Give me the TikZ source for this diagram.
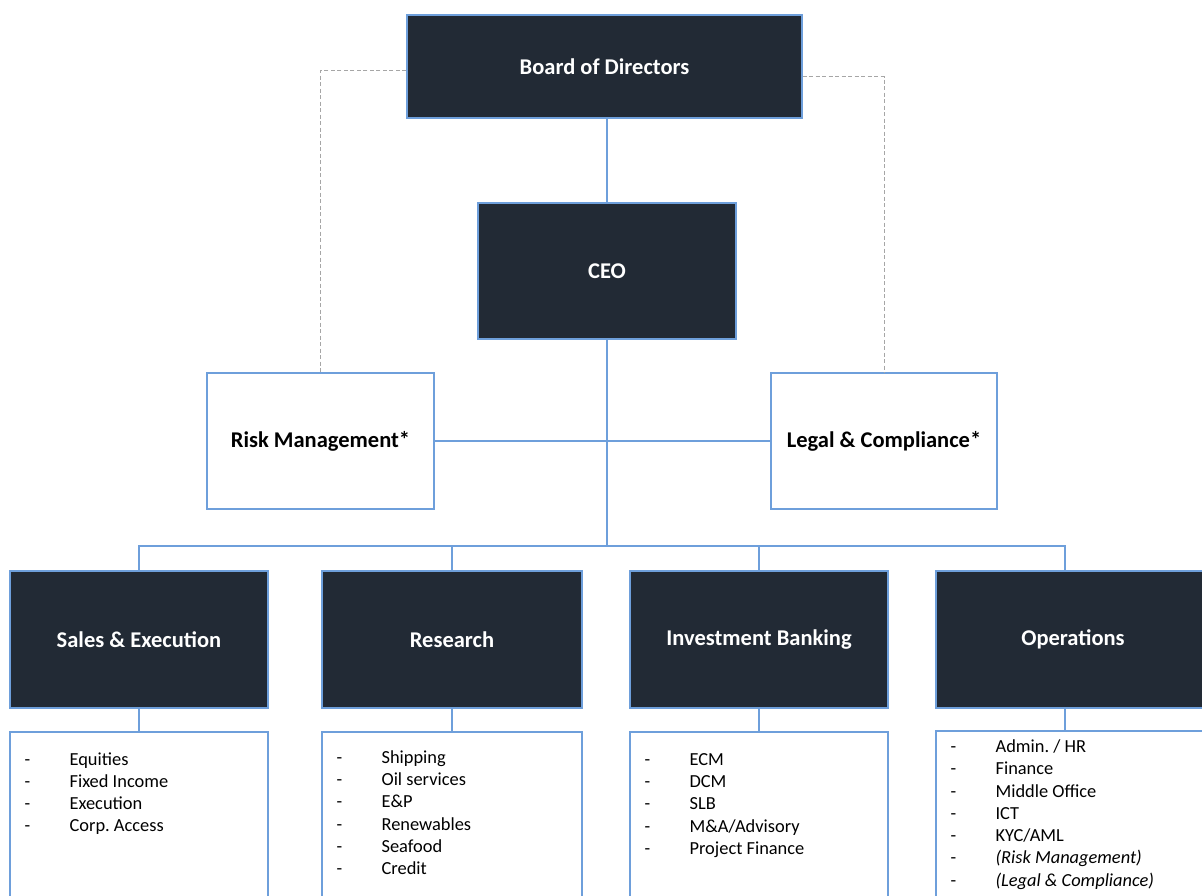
\documentclass[tikz,border=0pt]{standalone}
\usepackage{fontspec}
\setmainfont{Carlito}
\usetikzlibrary{positioning,calc}
\definecolor{navy}{HTML}{222A35}
\definecolor{linkblue}{HTML}{6E9FDB}
\definecolor{dashgray}{HTML}{A6A6A6}
\frenchspacing

\begin{document}
\begin{tikzpicture}[x=1pt,y=-1pt,
    darkbox/.style={draw=linkblue, line width=1.2pt, fill=navy, text=white,
      font=\fontsize{22.5}{27}\selectfont\bfseries, minimum height=137pt},
    lightbox/.style={draw=linkblue, line width=1.2pt, fill=white,
      font=\fontsize{22.5}{27}\selectfont\bfseries, minimum height=136pt},
    listbox/.style={draw=linkblue, line width=1.2pt, fill=white, minimum height=180pt},
    link/.style={draw=linkblue, line width=1.3pt},
    dashline/.style={draw=dashgray, line width=1pt, dash pattern=on 4pt off 2.5pt},
    entry/.style={anchor=base west, inner sep=0pt, font=\fontsize{18.4}{22}\selectfont}]
        \clip (0,0) rectangle (1202,895);
        % Top of the chart
        \node[darkbox, minimum width=395pt, minimum height=103pt] (board) at (604.5,66.5) {Board of Directors};
        \node[darkbox, minimum width=258pt, minimum height=136pt] (ceo) at (607,271) {CEO};
        \node[lightbox, minimum width=227pt] (risk) at (320.5,441) {Risk Management*};
        \node[lightbox, minimum width=226pt] (legal) at (884,441) {Legal \& Compliance*};
        % Business areas
        \node[darkbox, minimum width=258pt] (sales) at (139,639.5) {Sales \& Execution};
        \node[darkbox, minimum width=260pt] (research) at (452,639.5) {Research};
        \node[darkbox, minimum width=258pt] (ib) at (759,639.5) {Investment Banking};
        \node[darkbox, minimum width=274pt] (ops) at (1073,639.5) {Operations};
        % Boxes for the lists
        \node[listbox, minimum width=258pt] (saleslist) at (139,822) {};
        \node[listbox, minimum width=260pt] (researchlist) at (452,822) {};
        \node[listbox, minimum width=258pt] (iblist) at (759,822) {};
        \node[listbox, minimum width=274pt] (opslist) at (1073,821) {};
        % Lines
        \coordinate (bus) at (607,546);
        \coordinate (opsdrop) at (1065,546);
        \draw[link] (ceo.north) -- (ceo.north |- board.south);
        \draw[link] (ceo.south) -- (bus);
        \draw[link] (risk.east) -- (legal.west);
        \draw[link] (sales.north) |- (bus) -| (opsdrop) -- (opsdrop |- ops.north);
        \draw[link] (research.north) -- (research.north |- bus);
        \draw[link] (ib.north) -- (ib.north |- bus);
        \draw[link] (sales.south) -- (saleslist.north);
        \draw[link] (research.south) -- (researchlist.north);
        \draw[link] (ib.south) -- (iblist.north);
        \draw[link] (opsdrop |- ops.south) -- (opsdrop |- opslist.north);
        \draw[dashline] ([yshift=-4pt]board.west) -| (risk.north);
        \draw[dashline] ([yshift=-10pt]board.east) -| (legal.north);
        % Add the list entries
        \foreach \entry [count=\i from 0] in {Equities, Fixed Income, Execution, Corp. Access} {
            \node[entry] at ($(saleslist.north west)+(15,34+22*\i)$) {-};
            \node[entry] at ($(saleslist.north west)+(60,34+22*\i)$) {\entry};
        }
        \foreach \entry [count=\i from 0] in {Shipping, Oil services, E\&P, Renewables, Seafood, Credit} {
            \node[entry] at ($(researchlist.north west)+(15,32+22.2*\i)$) {-};
            \node[entry] at ($(researchlist.north west)+(60,32+22.2*\i)$) {\entry};
        }
        \foreach \entry [count=\i from 0] in {ECM, DCM, SLB, M\&A/Advisory, Project Finance} {
            \node[entry] at ($(iblist.north west)+(15,34+22.2*\i)$) {-};
            \node[entry] at ($(iblist.north west)+(60,34+22.2*\i)$) {\entry};
        }
        \foreach \entry [count=\i from 0] in {Admin. / HR, Finance, Middle Office, ICT, KYC/AML,
            \textit{(Risk Management)}, \textit{(Legal \& Compliance)}} {
            \node[entry] at ($(opslist.north west)+(15,22+22.3*\i)$) {-};
            \node[entry] at ($(opslist.north west)+(60,22+22.3*\i)$) {\entry};
        }
    \end{tikzpicture}
\end{document}
